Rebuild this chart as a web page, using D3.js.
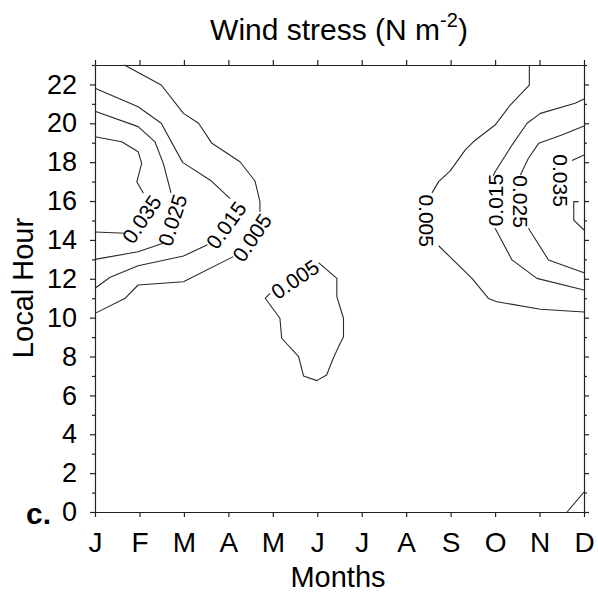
<!DOCTYPE html>
<html>
<head>
<meta charset="utf-8">
<script src="https://cdn.jsdelivr.net/npm/d3@7"></script>
<style>
  html, body { margin: 0; padding: 0; background: #fff; }
  svg text { font-family: Arial, "Liberation Sans", Helvetica, sans-serif; fill: #000; }
</style>
</head>
<body>
<script>
// Month axis (index 0 = January) and local-hour axis
const months = ["J", "F", "M", "A", "M", "J", "J", "A", "S", "O", "N", "D"];
const hourMajorTicks = [0, 2, 4, 6, 8, 10, 12, 14, 16, 18, 20, 22];
const hourMinorTicks = [1, 3, 5, 7, 9, 11, 13, 15, 17, 19, 21, 23];

// Wind-stress isolines, as [month index, local hour]; each line is broken where its label sits
const iso005WestUpper = [[0.66, 23], [1.49, 21.97], [1.99, 20.51], [2.33, 20.0], [2.63, 18.97], [3.26, 18.02], [3.60, 17.03], [3.71, 15.97], [3.71, 15.45]];
const iso005WestLower = [[3.11, 13.14], [1.99, 11.85], [0.97, 11.68], [0.68, 11.0], [0, 10.22]];
const iso015WestUpper = [[0, 21.8], [0.97, 20.85], [1.49, 20.0], [1.97, 17.99], [2.62, 17.03], [3.04, 16.12]];
const iso015WestLower = [[2.53, 13.75], [1.99, 13.17], [0.97, 12.67], [0.34, 12.08], [0, 11.51]];
const iso025WestUpper = [[0, 20.62], [0.97, 19.83], [1.35, 19.04], [1.54, 17.91], [1.71, 16.42]];
const iso025WestLower = [[1.53, 13.83], [0.97, 13.39], [0, 13.0]];
const iso035WestUpper = [[0, 19.31], [0.60, 19.05], [0.97, 18.54], [1.05, 17.94], [0.94, 16.99], [1.09, 16.40]];
const iso035WestLower = [[0.68, 14.34], [0, 14.41]];
const iso005Island = [[5.03, 12.83], [5.44, 12.02], [5.44, 11.08], [5.59, 9.97], [5.59, 9.02], [5.48, 8.51], [5.36, 7.91], [5.21, 7.05], [4.99, 6.76], [4.69, 7.0], [4.58, 7.99], [4.20, 8.94], [4.16, 9.97], [3.94, 10.65], [3.83, 11.0], [3.94, 11.25]];
const iso005EastUpper = [[9.77, 23], [9.77, 21.97], [9.34, 20.94], [9.0, 19.91], [8.51, 19.05], [8.33, 18.63], [7.99, 17.55], [7.73, 17.0], [7.58, 16.42]];
const iso005EastLower = [[7.73, 13.7], [8.48, 12.02], [8.85, 10.99], [9.04, 10.82], [10.02, 10.43], [11, 10.29]];
const iso015EastUpper = [[11, 21.25], [10.8, 21.03], [10.02, 20.51], [9.72, 20.0], [9.38, 18.88], [9.0, 17.51], [8.96, 17.3]];
const iso015EastLower = [[9.0, 14.6], [9.38, 12.97], [9.94, 12.02], [11, 11.42]];
const iso025EastUpper = [[11, 19.86], [10.5, 19.40], [9.98, 18.97], [9.75, 18.2], [9.57, 17.34]];
const iso025EastLower = [[9.75, 14.6], [10.2, 12.97], [11, 12.31]];
const iso035EastUpper = [[11, 18.37], [10.73, 18.08]];
const iso035EastLower = [[10.88, 15.97], [10.77, 15.97], [10.77, 15.02], [11, 14.51]];
const iso005SouthEast = [[10.62, 0], [11, 1.03]];

const isolines = [
  iso005WestUpper, iso005WestLower, iso015WestUpper, iso015WestLower,
  iso025WestUpper, iso025WestLower, iso035WestUpper, iso035WestLower,
  iso005Island,
  iso005EastUpper, iso005EastLower, iso015EastUpper, iso015EastLower,
  iso025EastUpper, iso025EastLower, iso035EastUpper, iso035EastLower,
  iso005SouthEast
];

// Isoline labels: value and the [month, hour] point they are centred on
const labelValues = ["0.035", "0.025", "0.015", "0.005", "0.005", "0.005", "0.015", "0.025", "0.035"];
const labelPoints = [[1.05, 15.07], [1.74, 15.02], [2.95, 14.76], [3.53, 14.12], [4.50, 11.98], [7.46, 14.99], [9.0, 16.05], [9.57, 15.97], [10.47, 17.05]];
const labelAngles = [-56, -72, -54, -56, -34, 90, -90, 90, 90];

const W = 598, H = 593;
const plot = { left: 95, right: 584, top: 65, bottom: 512 };

const svg = d3.select("body").append("svg")
  .attr("width", W).attr("height", H);

const x = d3.scaleLinear().domain([0, 11]).range([plot.left, plot.right]);
const y = d3.scaleLinear().domain([0, 23]).range([plot.bottom, plot.top]);

// Isolines
const line = d3.line().x(d => x(d[0])).y(d => y(d[1]));
svg.append("g")
  .selectAll("path")
  .data(isolines)
  .join("path")
  .attr("d", line)
  .attr("fill", "none")
  .attr("stroke", "#2a2a2a")
  .attr("stroke-width", 1.1)
  .attr("stroke-linejoin", "round");

// Isoline labels
svg.append("g")
  .selectAll("text")
  .data(labelValues)
  .join("text")
  .attr("transform", (d, i) => `translate(${x(labelPoints[i][0])},${y(labelPoints[i][1])}) rotate(${labelAngles[i]})`)
  .attr("text-anchor", "middle")
  .attr("dy", "0.36em")
  .style("font-size", "21px")
  .text(d => d);

// Frame and ticks
const axisStroke = "#222";
function styleAxis(g) {
  g.select(".domain").attr("stroke", axisStroke).attr("stroke-width", 1.2);
  g.selectAll(".tick line").attr("stroke", axisStroke).attr("stroke-width", 1.2);
}

const monthIdx = d3.range(months.length);

// bottom
svg.append("g")
  .attr("transform", `translate(0,${plot.bottom})`)
  .call(d3.axisBottom(x).tickValues(monthIdx).tickSize(5).tickSizeOuter(0).tickFormat(i => months[i]))
  .call(styleAxis)
  .call(g => g.selectAll(".tick text")
    .attr("y", 0).attr("dy", 0)
    .attr("transform", "translate(0,40)")
    .style("font-size", "28px").attr("fill", "#000"));

// top
svg.append("g")
  .attr("transform", `translate(0,${plot.top})`)
  .call(d3.axisTop(x).tickValues(monthIdx).tickSize(5).tickSizeOuter(0).tickFormat(""))
  .call(styleAxis);

// left: major with labels, then minor
svg.append("g")
  .attr("transform", `translate(${plot.left},0)`)
  .call(d3.axisLeft(y).tickValues(hourMajorTicks).tickSize(5).tickSizeOuter(0).tickPadding(13))
  .call(styleAxis)
  .call(g => g.selectAll(".tick text").style("font-size", "27px").attr("fill", "#000"));
svg.append("g")
  .attr("transform", `translate(${plot.left},0)`)
  .call(d3.axisLeft(y).tickValues(hourMinorTicks).tickSize(3).tickSizeOuter(0).tickFormat(""))
  .call(styleAxis)
  .call(g => g.select(".domain").remove());

// right
svg.append("g")
  .attr("transform", `translate(${plot.right},0)`)
  .call(d3.axisRight(y).tickValues(hourMajorTicks).tickSize(5).tickSizeOuter(0).tickFormat(""))
  .call(styleAxis);
svg.append("g")
  .attr("transform", `translate(${plot.right},0)`)
  .call(d3.axisRight(y).tickValues(hourMinorTicks).tickSize(3).tickSizeOuter(0).tickFormat(""))
  .call(styleAxis)
  .call(g => g.select(".domain").remove());

// Title with superscript unit
const title = svg.append("text")
  .attr("x", 339)
  .attr("y", 40)
  .attr("text-anchor", "middle")
  .style("font-size", "30px");
title.append("tspan").text("Wind stress (N m");
title.append("tspan").attr("dy", -13).style("font-size", "20px").text("-2");
title.append("tspan").attr("dy", 13).text(")");

// Axis titles
svg.append("text")
  .attr("x", 338)
  .attr("y", 587)
  .attr("text-anchor", "middle")
  .style("font-size", "29px")
  .text("Months");

svg.append("text")
  .attr("transform", `translate(33,288) rotate(-90)`)
  .attr("text-anchor", "middle")
  .style("font-size", "29px")
  .text("Local Hour");

// Panel letter
svg.append("text")
  .attr("x", 26)
  .attr("y", 524)
  .style("font-size", "30px")
  .style("font-weight", "bold")
  .text("c.");
</script>
</body>
</html>
